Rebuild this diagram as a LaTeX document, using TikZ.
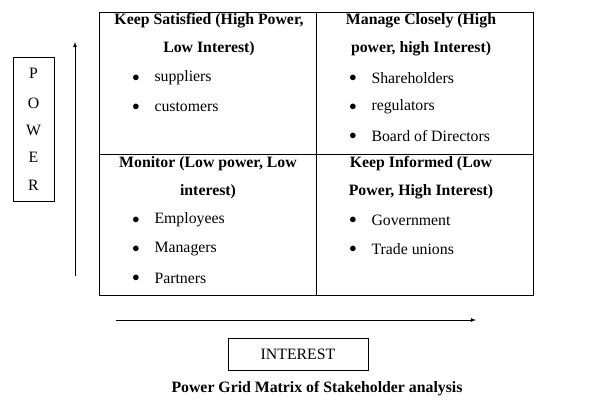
\documentclass[tikz,border=0pt]{standalone}
\usepackage{fontspec}
\setmainfont{Liberation Serif}
\begin{document}
\begin{tikzpicture}[x=1pt,y=-1pt,
  every node/.style={font=\fontsize{15.8}{18}\selectfont},
  hd/.style={font=\fontsize{15.8}{18}\selectfont\bfseries,anchor=center},
  it/.style={anchor=west},
  bl/.style={anchor=center},
  box/.style={draw=black,line width=0.8pt}]
\useasboundingbox (0,0) rectangle (596,402);
\draw[box] (99,12) rectangle (533,295);
\draw[box] (316,12) -- (316,295);
\draw[box] (99,154) -- (533,154);
% POWER box
\node[box,minimum width=41pt,minimum height=144pt] (pw) at (33.5,129) {};
\foreach \l/\y [count=\i] in {P/73,O/103,W/130,E/157,R/185}
  \node (p\i) at (33.5,\y) {\l};
\coordinate (va) at (75,276); \coordinate (vb) at (75,42);
\draw[-latex,line width=0.8pt] (va) -- (vb);
\coordinate (ha) at (116,320); \coordinate (hb) at (476,320);
\draw[-latex,line width=0.8pt] (ha) -- (hb);
\node[box,minimum width=140pt,minimum height=32pt] (int) at (298,354) {INTEREST};
\node[hd] (cap) at (317,389) {Power Grid Matrix of Stakeholder analysis};
% cells
\node[hd] (h1a) at (209,21) {Keep Satisfied (High Power,};
\node[hd] (h1b) at (209,49) {Low Interest)};
\node[hd] (h2a) at (421,21) {Manage Closely (High};
\node[hd] (h2b) at (421,49) {power, high Interest)};
\node[hd] (h3a) at (208,164) {Monitor (Low power, Low};
\node[hd] (h3b) at (208,192) {interest)};
\node[hd] (h4a) at (421,164) {Keep Informed (Low};
\node[hd] (h4b) at (421,192) {Power, High Interest)};
\foreach \t/\y [count=\i] in {suppliers/78,customers/107}
  {\node[bl] (b1\i) at (136,\y) {$\bullet$}; \node[it] (t1\i) at (151,\y) {\t};}
\foreach \t/\y [count=\i] in {Shareholders/78,regulators/107,Board of Directors/136}
  {\node[bl] (b2\i) at (353,\y) {$\bullet$}; \node[it] (t2\i) at (368,\y) {\t};}
\foreach \t/\y [count=\i] in {Employees/220,Managers/249,Partners/278}
  {\node[bl] (b3\i) at (136,\y) {$\bullet$}; \node[it] (t3\i) at (151,\y) {\t};}
\foreach \t/\y [count=\i] in {Government/220,Trade unions/249}
  {\node[bl] (b4\i) at (353,\y) {$\bullet$}; \node[it] (t4\i) at (368,\y) {\t};}
\end{tikzpicture}
\end{document}
